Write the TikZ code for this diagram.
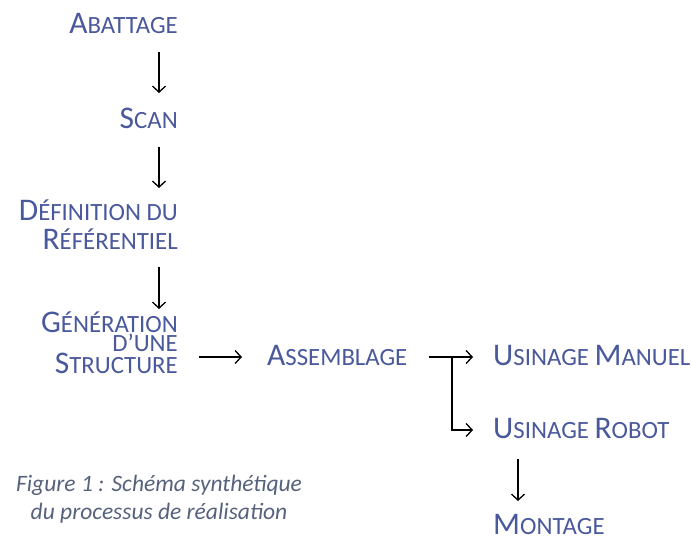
\documentclass[tikz,border=0pt]{standalone}
\usepackage{fontspec}
\setmainfont{Carlito}
\usetikzlibrary{arrows.meta}
\definecolor{txtblue}{RGB}{74,88,156}
\definecolor{capgrey}{RGB}{86,98,124}
\newcommand\BigC[1]{{\fontsize{31.5}{31.5}\selectfont #1}}
\tikzset{
  lbl/.style={inner sep=0pt, text=txtblue, font=\fontsize{24.8}{24.8}\selectfont},
  arr/.style={line width=1.3pt, -{Straight Barb[length=6pt,width=13pt,line width=1.3pt]}},
  capt/.style={inner sep=0pt, text=capgrey, font=\fontsize{23.5}{28}\selectfont\itshape, align=center}
}
\begin{document}
\begin{tikzpicture}[x=1pt,y=-1pt]
\useasboundingbox (0,0) rectangle (692,538);
\node[lbl, anchor=base east] (aba) at (178,33) {\BigC{A}BATTAGE};
\node[lbl, anchor=base east] (scan) at (178,128) {\BigC{S}CAN};
\node[lbl, anchor=base east, align=right, font=\fontsize{24.8}{29}\selectfont] (def) at (178,249) {\BigC{D}ÉFINITION DU\\\BigC{R}ÉFÉRENTIEL};
\node[lbl, anchor=base east, align=right, font=\fontsize{24.8}{16.5}\selectfont] (gen) at (178,373) {\BigC{G}ÉNÉRATION\\D’UNE\\\BigC{S}TRUCTURE};
\node[lbl, anchor=base west] (ass) at (267,365) {\BigC{A}SSEMBLAGE};
\node[lbl, anchor=base west] (man) at (493,365) {\BigC{U}SINAGE \BigC{M}ANUEL};
\node[lbl, anchor=base west] (rob) at (493,438) {\BigC{U}SINAGE \BigC{R}OBOT};
\node[lbl, anchor=base west] (mon) at (493,534) {\BigC{M}ONTAGE};
\node[capt, anchor=base] (cap) at (159,519) {Figure 1 : Schéma synthétique\\du processus de réalisation};

\draw[arr] ([shift={(-19,19)}]aba.base east) -- ([shift={(-19,-35)}]scan.base east);
\draw[arr] ([shift={(-19,19)}]scan.base east) -- ([shift={(-19,-61)}]def.base east);
\draw[arr] ([shift={(-19,18)}]def.base east) -- ([shift={(-19,-64)}]gen.base east);
\draw[arr] ([shift={(21,-16)}]gen.base east) -- ([shift={(-25,-8)}]ass.base west);
\draw[arr] ([shift={(-64,-8)}]man.base west) -- ([shift={(-20,-8)}]man.base west);
\draw[arr] ([shift={(-41,-8)}]man.base west) |- ([shift={(-20,-8)}]rob.base west);
\draw[arr] ([shift={(25,21)}]rob.base west) -- ([shift={(25,-33)}]mon.base west);
\end{tikzpicture}
\end{document}
